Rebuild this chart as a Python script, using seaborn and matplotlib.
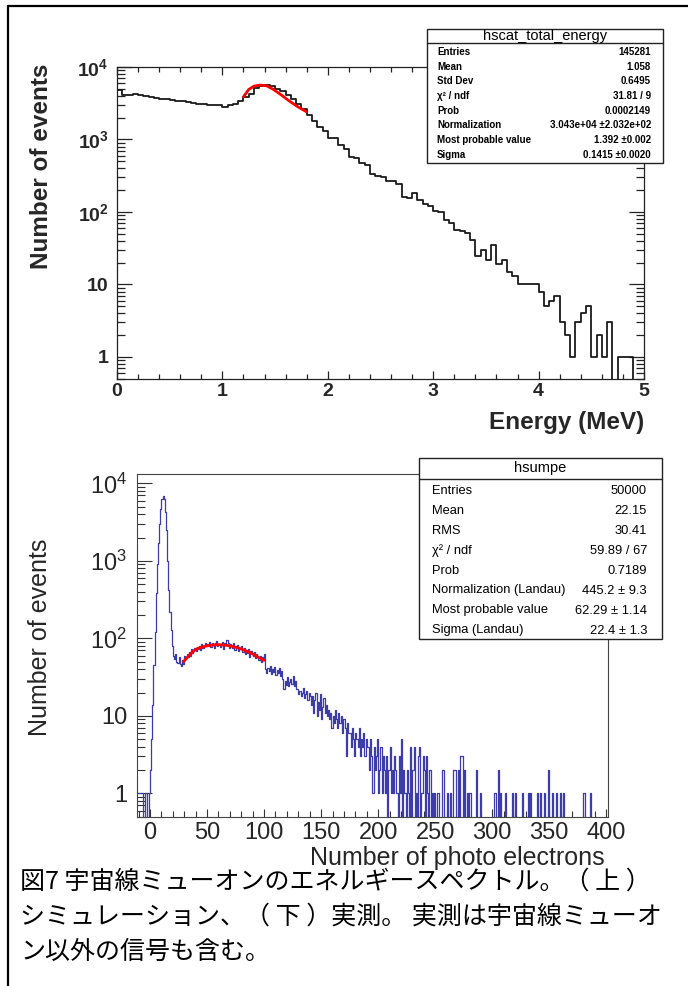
import numpy as np
import pandas as pd
import seaborn as sns
import matplotlib.pyplot as plt
from matplotlib.patches import Rectangle
from matplotlib.lines import Line2D
from matplotlib.ticker import LogLocator, MultipleLocator, NullFormatter

sns.set_theme(style='ticks')
plt.rcParams['font.family'] = ['Liberation Sans', 'DejaVu Sans']
plt.rcParams['mathtext.fontset'] = 'custom'
plt.rcParams['mathtext.rm'] = 'Liberation Sans'
plt.rcParams['mathtext.bf'] = 'Liberation Sans:bold'
plt.rcParams['text.color'] = 'black'

#%% DATA
# top: simulated energy deposit, 100 bins of 0.05 MeV from 0 to 5 MeV
energy_edges = list(np.linspace(0, 5, 101))
energy_counts = [4800, 4150, 4050, 4200, 4100, 3950, 3800, 3750, 3650, 3600,
                 3550, 3450, 3350, 3300, 3200, 3100, 3050, 2950, 3000, 2950,
                 2850, 3000, 3050, 3400, 3850, 4300, 5100, 5550, 5600, 5450,
                 5000, 4600, 4100, 3600, 3100, 2650, 2200, 1800, 1500, 1290,
                 1050, 1040, 840, 740, 580, 550, 470, 445, 330, 315,
                 305, 270, 265, 245, 160, 158, 183, 146, 128, 122,
                 104, 100, 78, 70, 57, 55, 51, 41, 25, 30,
                 22, 35, 19, 22, 15, 13, 10, 10, 10, 10,
                 8, 5, 6, 7, 3, 2, 1, 3, 4, 5,
                 1, 2, 1, 3, 0, 1, 1, 1, 0, 0]
# landau fit
energy_fit_x = [1.20, 1.25, 1.30, 1.36, 1.42, 1.48, 1.56, 1.64, 1.72, 1.80]
energy_fit_y = [3880, 4900, 5450, 5630, 5500, 4950, 4100, 3350, 2800, 2400]

# bottom: measured photo electrons, 1 p.e. bins starting at -11
pe_start = -11
pe_peak = [1, 1, 1, 1, 1, 0, 0, 1, 0, 0, 1,
           2, 5, 14, 45, 120, 380, 900, 1700, 3000, 4700,
           6200, 6900, 6200, 4300, 2500, 1000, 420, 220, 130, 80, 60]
pe_bump = [54, 62, 50, 48, 58, 46, 44, 52, 47, 60,
           55, 63, 58, 66, 60, 72, 65, 70, 74, 68,
           78, 72, 80, 70, 85, 76, 82, 88, 79, 84,
           80, 90, 77, 86, 83, 75, 88, 92, 80, 85,
           78, 84, 90, 73, 86, 82, 94, 88, 76, 85,
           80, 74, 86, 70, 78, 82, 68, 75, 72, 80,
           66, 74, 62, 70, 65, 72, 58, 68, 63, 60,
           66, 55, 62, 58, 52, 60, 50, 57, 54, 62]
pe_fall = [40, 36, 42, 38, 44, 35, 40, 37, 43, 34, 39, 36, 41, 33, 38,
           30, 22, 28, 25, 32, 24, 27, 30, 26, 33, 24, 28, 22,
           22, 19, 21, 18, 20, 23, 17, 19, 21, 16, 20, 18,
           14, 18, 11, 16, 20, 10, 15, 12, 19, 9, 13, 17, 11, 14, 10,
           12, 9, 11, 7, 10, 8, 12, 9, 7, 11, 8, 10, 6, 9,
           9, 7, 3, 8, 6,
           6, 4, 7, 5, 3, 6, 5, 4, 7, 3, 5, 4, 6, 3, 5, 4,
           4, 2, 5, 3, 1, 4, 2, 3, 5, 1, 2, 4, 1, 3, 2, 1, 3, 0, 2, 4, 1, 2, 1, 3, 2,
           1, 0, 3, 1, 5, 0, 2, 1, 0, 2, 1]
# sparse tail (everything else is empty up to 400)
pe_tail_bin = [228, 230, 231, 233, 235, 236, 238, 239, 240, 242, 243, 245, 247, 249,
               252, 256, 257, 260, 263, 266, 267, 270, 272, 273, 275, 278, 280, 286,
               289, 302, 305, 307, 311, 317, 320, 326, 331, 333, 339, 342, 345, 349,
               352, 356, 359, 362, 380, 386]
pe_tail_cnt = [4, 2, 4, 1, 3, 4, 1, 3, 2, 3, 1, 2, 1, 1,
               1, 2, 2, 1, 1, 2, 2, 2, 3, 3, 2, 1, 1, 2,
               1, 1, 2, 1, 1, 1, 1, 1, 1, 1, 1, 1, 1, 2,
               1, 1, 1, 1, 1, 1]
pe_fit_x = [29.4, 35, 40, 45, 50, 55, 60, 65, 70, 75, 80, 85, 90, 95, 100]
pe_fit_y = [50, 62, 72, 77, 80, 82, 83, 82, 80, 77, 73, 68, 63, 57, 52]

top_stats = [('Entries', '145281'), ('Mean', '1.058'), ('Std Dev', '0.6495'),
             ('χ² / ndf', '31.81 / 9'), ('Prob', '0.0002149'),
             ('Normalization', '3.043e+04 ±2.032e+02'),
             ('Most probable value', '1.392 ±0.002'), ('Sigma', '0.1415 ±0.0020')]
bot_stats = [('Entries', '50000'), ('Mean', '22.15'), ('RMS', '30.41'),
             ('χ² / ndf', '59.89 / 67'), ('Prob', '0.7189'),
             ('Normalization (Landau)', '445.2 ± 9.3'),
             ('Most probable value', '62.29 ± 1.14'), ('Sigma (Landau)', '22.4 ± 1.3')]
caption = ['図7 宇宙線ミューオンのエネルギースペクトル。（ 上 ）',
           'シミュレーション、（ 下 ）実測。 実測は宇宙線ミューオ',
           'ン以外の信号も含む。']

#%% build tables
df_top = pd.DataFrame({'energy': [(a + b) / 2 for a, b in zip(energy_edges[:-1], energy_edges[1:])],
                       'n': energy_counts})
pe_edges = list(range(pe_start, 401))
pe_counts = np.zeros(len(pe_edges) - 1)
dense = pe_peak + pe_bump + pe_fall
pe_counts[:len(dense)] = dense
for b, c in zip(pe_tail_bin, pe_tail_cnt):
    pe_counts[b - pe_start] = c
df_bot = pd.DataFrame({'pe': [e + 0.5 for e in pe_edges[:-1]], 'n': pe_counts})

#%% figure
W, H = 688, 986
def fx(px):
    return px / W
def fy(py):
    return 1 - py / H

fig = plt.figure(figsize=(W / 100, H / 100), dpi=100)
ax1 = fig.add_axes([fx(117), fy(378.8), (644 - 117) / W, (378.8 - 67) / H])
ax2 = fig.add_axes([fx(137), fy(816.7), (608 - 137) / W, (816.7 - 474) / H])

# ============ top panel
sns.histplot(data=df_top, x='energy', weights='n', bins=energy_edges, element='step',
             fill=False, color='#1a1a1a', linewidth=1.3, ax=ax1)
sns.lineplot(x=energy_fit_x, y=energy_fit_y, color='red', linewidth=2, ax=ax1)
ax1.set_yscale('log')
ax1.set(xlim=[0, 5], ylim=[0.5, 1e4])
ax1.set_xticks(range(6), labels=[str(i) for i in range(6)], fontweight='bold')
ax1.set_yticks([1, 10, 100, 1000, 10000],
               labels=['1', '10', r'$\mathbf{10^{2}}$', r'$\mathbf{10^{3}}$', r'$\mathbf{10^{4}}$'],
               fontweight='bold')
ax1.xaxis.set_minor_locator(MultipleLocator(0.2))
ax1.yaxis.set_minor_locator(LogLocator(subs=np.arange(2, 10)))
ax1.yaxis.set_minor_formatter(NullFormatter())
ax1.tick_params(which='both', direction='in', top=True, right=True, labelsize=14,
                width=0.9, color='#222222')
ax1.tick_params(axis='y', which='major', length=11, pad=6)
ax1.tick_params(axis='y', which='minor', length=5.5)
ax1.tick_params(axis='x', which='major', length=6, pad=3)
ax1.tick_params(axis='x', which='minor', length=3.5)
for s in ax1.spines.values():
    s.set_color('#222222')
    s.set_linewidth(0.9)
ax1.set_ylabel('Number of events', loc='top', fontweight='bold', fontsize=17.5)
ax1.yaxis.set_label_coords(-0.144, 1.012)
ax1.yaxis.label.set_va('center')
ax1.set_xlabel('Energy (MeV)', loc='right', fontweight='bold', fontsize=17.5)
ax1.xaxis.set_label_coords(1.0, -0.139)
ax1.xaxis.label.set_va('center')

# ============ bottom panel
sns.histplot(data=df_bot, x='pe', weights='n', bins=pe_edges, element='step',
             fill=False, color='#3c3cab', linewidth=0.9, ax=ax2)
sns.lineplot(x=pe_fit_x, y=pe_fit_y, color='red', linewidth=2, ax=ax2)
ax2.set_yscale('log')
ax2.set(xlim=[-11.4, 401.5], ylim=[0.5, 1.32e4])
ax2.set_xticks(range(0, 401, 50), labels=[str(i) for i in range(0, 401, 50)])
ax2.set_yticks([1, 10, 100, 1000, 10000],
               labels=['1', '10', r'$\mathrm{10^{2}}$', r'$\mathrm{10^{3}}$', r'$\mathrm{10^{4}}$'])
ax2.xaxis.set_minor_locator(MultipleLocator(10))
ax2.yaxis.set_minor_locator(LogLocator(subs=np.arange(2, 10)))
ax2.yaxis.set_minor_formatter(NullFormatter())
ax2.tick_params(which='both', direction='in', labelsize=17, width=0.8, color='#333333')
ax2.tick_params(axis='y', which='major', length=11, pad=7)
ax2.tick_params(axis='y', which='minor', length=6)
ax2.tick_params(axis='x', which='major', length=6, pad=4)
ax2.tick_params(axis='x', which='minor', length=4)
for s in ax2.spines.values():
    s.set_color('#444444')
    s.set_linewidth(0.8)
ax2.set_ylabel('Number of events', fontsize=18)
ax2.yaxis.set_label_coords(-0.206, 0.524)
ax2.yaxis.label.set_va('center')
ax2.set_xlabel('Number of photo electrons', loc='right', fontsize=18)
ax2.xaxis.set_label_coords(0.992, -0.1205)
ax2.xaxis.label.set_va('center')

# ============ stats boxes
def statbox(x0, x1, y0, y1, yh, title, rows, ytop, dy, tsize, rsize, weight, pad):
    fig.add_artist(Rectangle((fx(x0), fy(y1)), (x1 - x0) / W, (y1 - y0) / H,
                             transform=fig.transFigure, facecolor='white',
                             edgecolor='#222222', linewidth=1, zorder=5))
    fig.add_artist(Line2D([fx(x0), fx(x1)], [fy(yh), fy(yh)], transform=fig.transFigure,
                          color='#222222', linewidth=1, zorder=6))
    fig.text(fx((x0 + x1) / 2), fy((y0 + yh) / 2), title, ha='center', va='center',
             fontsize=tsize, zorder=7)
    for i, (k, v) in enumerate(rows):
        fig.text(fx(x0 + pad), fy(ytop + i * dy), k, ha='left', va='center',
                 fontsize=rsize, fontweight=weight, zorder=7)
        fig.text(fx(x1 - pad - 2), fy(ytop + i * dy), v, ha='right', va='center',
                 fontsize=rsize, fontweight=weight, zorder=7)

statbox(427, 663, 29, 163, 43, 'hscat_total_energy', top_stats, 52, 14.7, 10.5, 7, 'bold', 10)
statbox(419, 662, 458, 639, 479, 'hsumpe', bot_stats, 490.5, 20, 10.5, 9.3, 'normal', 13)

# ============ frame + caption
fig.add_artist(Line2D([fx(8), fx(688)], [fy(6), fy(6)], transform=fig.transFigure,
                      color='black', linewidth=1.6))
fig.add_artist(Line2D([fx(8), fx(8)], [fy(6), fy(986)], transform=fig.transFigure,
                      color='black', linewidth=1.6))
for i, line in enumerate(caption):
    fig.text(fx(20), fy(882 + i * 35), line, ha='left', va='center', fontsize=18,
             family=['Noto Sans CJK JP', 'DejaVu Sans'])

fig.savefig('out.png', dpi=100, facecolor='white')
